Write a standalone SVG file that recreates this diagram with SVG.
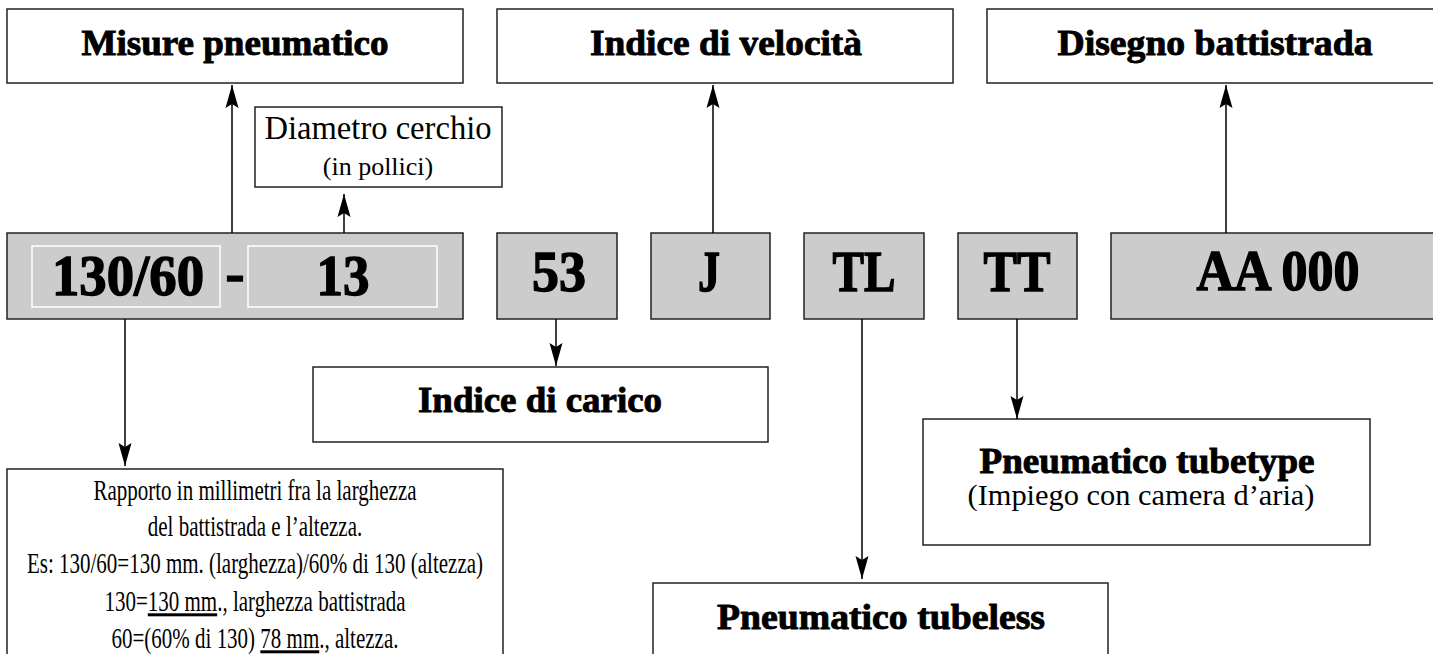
<svg xmlns="http://www.w3.org/2000/svg" width="1433" height="654" viewBox="0 0 1433 654">
<style>
.box{fill:#fff;stroke:#222;stroke-width:1.5}
.gray{fill:#cccccc;stroke:#222;stroke-width:1.5}
.inner{fill:none;stroke:#fff;stroke-width:1.5}
.h{font-family:"Liberation Serif",serif;font-weight:bold;font-size:36px;fill:#000;stroke:#000;stroke-width:0.9;text-anchor:middle}
.code{font-family:"Liberation Serif",serif;font-weight:bold;font-size:57px;fill:#000;stroke:#000;stroke-width:1.4;text-anchor:middle}
.r{font-family:"Liberation Serif",serif;font-size:30px;fill:#000;text-anchor:middle}
.conn{stroke:#000;stroke-width:1.5;fill:none}
.u{text-decoration:underline}
</style>
<defs>
<marker id="arr" viewBox="0 0 23 14" markerWidth="23" markerHeight="14" refX="23" refY="7" orient="auto" markerUnits="userSpaceOnUse">
<path d="M23,7 L0,0.5 L4,7 L0,13.5 Z" fill="#000"/>
</marker>
</defs>

<g id="n-misure"><rect class="box" x="7" y="9" width="456" height="74"/><text class="h" x="235" y="55" textLength="307" lengthAdjust="spacingAndGlyphs">Misure pneumatico</text></g>
<g id="n-velocita"><rect class="box" x="497" y="9" width="456" height="74"/><text class="h" x="726" y="55" textLength="272" lengthAdjust="spacingAndGlyphs">Indice di velocità</text></g>
<g id="n-disegno"><rect class="box" x="987" y="9" width="456" height="74"/><text class="h" x="1215" y="55" textLength="315" lengthAdjust="spacingAndGlyphs">Disegno battistrada</text></g>
<g id="n-diametro"><rect class="box" x="255" y="107" width="247" height="80"/><text class="r" x="378" y="139" style="font-size:33px" textLength="227" lengthAdjust="spacingAndGlyphs">Diametro cerchio</text><text class="r" x="378" y="175" style="font-size:26px">(in pollici)</text></g>

<g id="n-misura"><rect class="gray" x="7" y="233" width="456" height="86"/><rect class="inner" x="32" y="246" width="188" height="61"/><rect class="inner" x="248" y="246" width="189" height="61"/><text class="code" x="128" y="295" textLength="152" lengthAdjust="spacingAndGlyphs">130/60</text><text class="code" x="235" y="292">-</text><text class="code" x="343" y="295" textLength="53" lengthAdjust="spacingAndGlyphs">13</text></g>
<g id="n-53"><rect class="gray" x="497" y="233" width="120" height="86"/><text class="code" x="559" y="291" textLength="54" lengthAdjust="spacingAndGlyphs">53</text></g>
<g id="n-j"><rect class="gray" x="651" y="233" width="119" height="86"/><text class="code" x="709" y="291" textLength="22" lengthAdjust="spacingAndGlyphs">J</text></g>
<g id="n-tl"><rect class="gray" x="804" y="233" width="120" height="86"/><text class="code" x="864" y="291" textLength="63" lengthAdjust="spacingAndGlyphs">TL</text></g>
<g id="n-tt"><rect class="gray" x="958" y="233" width="119" height="86"/><text class="code" x="1017" y="291" textLength="67" lengthAdjust="spacingAndGlyphs">TT</text></g>
<g id="n-aa"><rect class="gray" x="1111" y="233" width="330" height="86"/><text class="code" x="1278" y="290" textLength="163" lengthAdjust="spacingAndGlyphs">AA 000</text></g>

<g id="n-carico"><rect class="box" x="313" y="367" width="455" height="75"/><text class="h" x="540" y="412" textLength="244" lengthAdjust="spacingAndGlyphs">Indice di carico</text></g>
<g id="n-tubetype"><rect class="box" x="923" y="419" width="447" height="126"/><text class="h" x="1147" y="473" textLength="335" lengthAdjust="spacingAndGlyphs">Pneumatico tubetype</text><text class="r" x="1141" y="505" textLength="347" lengthAdjust="spacingAndGlyphs">(Impiego con camera d’aria)</text></g>
<g id="n-tubeless"><rect class="box" x="653" y="583" width="455" height="90"/><text class="h" x="881" y="629" textLength="328" lengthAdjust="spacingAndGlyphs">Pneumatico tubeless</text></g>
<g id="n-rapporto"><rect class="box" x="7" y="469" width="496" height="200"/>
<g transform="translate(255,0) scale(0.7,1)">
<text class="r" x="0" y="500">Rapporto in millimetri fra la larghezza</text>
<text class="r" x="0" y="536">del battistrada e l’altezza.</text>
<text class="r" x="0" y="573">Es: 130/60=130 mm. (larghezza)/60% di 130 (altezza)</text>
<text class="r" x="0" y="611">130=<tspan class="u">130 mm</tspan>., larghezza battistrada</text>
<text class="r" x="0" y="648">60=(60% di 130) <tspan class="u">78 mm</tspan>., altezza.</text>
</g></g>

<g id="connectors" class="conn">
<line x1="232" y1="233" x2="232" y2="85" marker-end="url(#arr)"/>
<line x1="344" y1="233" x2="344" y2="194" marker-end="url(#arr)"/>
<line x1="713" y1="233" x2="713" y2="85" marker-end="url(#arr)"/>
<line x1="1226" y1="233" x2="1226" y2="85" marker-end="url(#arr)"/>
<line x1="125" y1="319" x2="125" y2="466" marker-end="url(#arr)"/>
<line x1="556" y1="319" x2="556" y2="366" marker-end="url(#arr)"/>
<line x1="862" y1="319" x2="862" y2="579" marker-end="url(#arr)"/>
<line x1="1017" y1="319" x2="1017" y2="419" marker-end="url(#arr)"/>
</g>
</svg>
